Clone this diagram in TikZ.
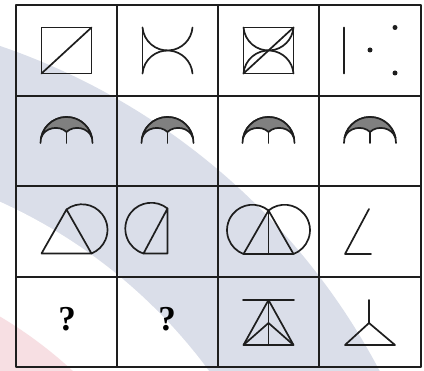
\documentclass[tikz,border=0pt]{standalone}
\usepackage{fontspec}
\newfontfamily\qfont{Liberation Serif}
\definecolor{wmblue}{RGB}{218,222,233}
\definecolor{wmpink}{RGB}{247,223,227}
\definecolor{ink}{RGB}{30,30,30}
\begin{document}
\begin{tikzpicture}[x=1pt,y=1pt,line join=round,
  gridline/.style={line width=1.9pt,draw=ink},
  fig/.style={line width=1.7pt,draw=ink,line cap=round},
  dotmark/.style={fill=ink},
  crest/.style={fill=black!50,draw=ink,line width=1.7pt},
  qmark/.style={inner sep=0pt,font=\qfont\bfseries\fontsize{35}{35}\selectfont}]
\useasboundingbox (0,0) rectangle (424,371);
\fill[white] (0,0) rectangle (424,371);
% watermark
\begin{scope}
\clip (0,0) rectangle (424,371);
\fill[wmblue] (-218,-314) circle[radius=675];
\fill[white] (-218,-314) circle[radius=530];
\fill[wmpink] (-218,-314) circle[radius=428];
\end{scope}
% grid
\draw[gridline] (16,4) rectangle (421,366);
\foreach \x in {117,218,319} \draw[gridline] (\x,4)--(\x,366);
\foreach \y in {94,185,275} \draw[gridline] (16,\y)--(421,\y);
% row 1
\begin{scope}[shift={(66.5,320.5)}]
  \draw[fig] (-25,-23) rectangle (25,23);
  \draw[fig] (-25,-23)--(25,23);
\end{scope}
\begin{scope}[shift={(167.5,320.5)}]
  \draw[fig] (-25,-23)--(-25,23);
  \draw[fig] (-25,23) arc[start angle=184.8,end angle=355.2,radius=25.09];
  \draw[fig] (-25,-23) arc[start angle=175.2,end angle=4.8,radius=25.09];
\end{scope}
\begin{scope}[shift={(268.5,320.5)}]
  \draw[fig] (-25,-23) rectangle (25,23);
  \draw[fig] (-25,-23)--(25,23);
  \draw[fig] (-25,23) arc[start angle=184.8,end angle=355.2,radius=25.09];
  \draw[fig] (-25,-23) arc[start angle=175.2,end angle=4.8,radius=25.09];
\end{scope}
\begin{scope}[shift={(370,320.5)}]
  \draw[fig] (-26,-23)--(-26,23);
  \fill[dotmark] (0,0.5) circle[radius=2.5];
  \fill[dotmark] (25,23) circle[radius=2.5];
  \fill[dotmark] (25,-22.5) circle[radius=2.5];
\end{scope}
% row 2
\foreach \cx in {66.5,167.5,268.5,370}{
\begin{scope}[shift={(\cx,230)}]
  \draw[fig] (-26,-2) arc[start angle=180,end angle=0,radius=26];
  \filldraw[crest] (-25.5,3) arc[start angle=169,end angle=11,radius=26]
     .. controls (22,14) and (7,16) .. (0,9)
     .. controls (-7,16) and (-22,14) .. (-25.5,3) -- cycle;
  \draw[fig] (0,9)--(0,-2);
\end{scope}}
% row 3
\begin{scope}[shift={(66.5,139.5)}]
  \draw[fig] (0,22)--(-25,-22)--(25,-22)--cycle;
  \draw[fig] (0,22) arc[start angle=127.3,end angle=-68.1,radius=25.53];
\end{scope}
\begin{scope}[shift={(167.5,139.5)}]
  \draw[fig] (0,23)--(0,-22)--(-24,-22)--cycle;
  \draw[fig] (0,23) arc[start angle=51.2,end angle=252.6,radius=25.95];
\end{scope}
\begin{scope}[shift={(268.5,139.5)}]
  \draw[fig] (0,21)--(-25,-22.5)--(25,-22.5)--cycle;
  \draw[fig] (0,21)--(0,-22.5);
  \draw[fig] (0,21) arc[start angle=129.25,end angle=-69.5,radius=25.41];
  \draw[fig] (0,21) arc[start angle=50.75,end angle=249.5,radius=25.41];
\end{scope}
\begin{scope}[shift={(370,139.5)}]
  \draw[fig] (-1,22.5)--(-25,-22.5)--(1,-22.5);
\end{scope}
% row 4
\node[qmark] (q1) at (67,52) {?};
\node[qmark] (q2) at (167,52) {?};
\begin{scope}[shift={(268.5,49)}]
  \draw[fig] (-25.5,22)--(25.5,22);
  \draw[fig] (0,22)--(-25,-23)--(25,-23)--cycle;
  \draw[fig] (0,22)--(0,-23);
  \draw[fig] (-25,-23)--(0,-1)--(25,-23);
\end{scope}
\begin{scope}[shift={(370,49)}]
  \draw[fig] (-1,22)--(-1,-1);
  \draw[fig] (-25,-23)--(-1,-1)--(25,-23)--cycle;
\end{scope}
\end{tikzpicture}
\end{document}
